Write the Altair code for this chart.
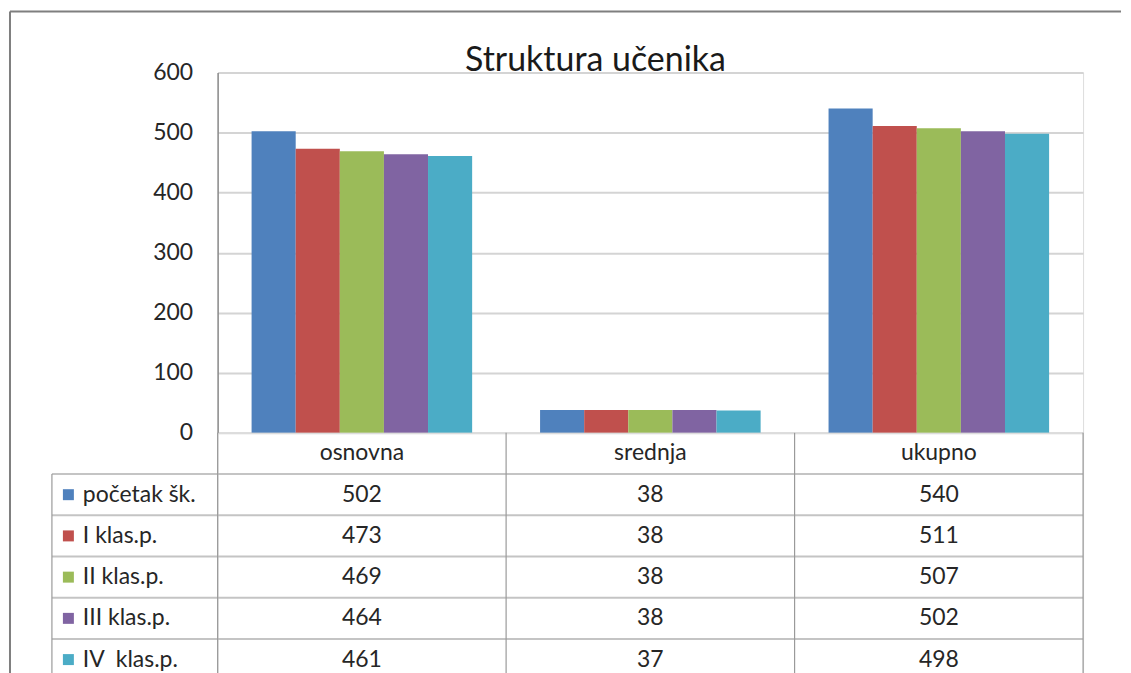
import altair as alt
import pandas as pd

categories = ["osnovna", "srednja", "ukupno"]
series = ["početak šk.", "I klas.p.", "II klas.p.", "III klas.p.", "IV  klas.p."]
v_pocetak = [502, 38, 540]
v_I = [473, 38, 511]
v_II = [469, 38, 507]
v_III = [464, 38, 502]
v_IV = [461, 37, 498]
colors = ["#4F81BD", "#C0504D", "#9BBB59", "#8064A2", "#4BACC6"]
y_ticks = [0, 100, 200, 300, 400, 500, 600]

all_vals = [v_pocetak, v_I, v_II, v_III, v_IV]
rows = []
for s, vals in zip(series, all_vals):
    for c, v in zip(categories, vals):
        rows.append({"cat": c, "series": s, "value": v, "row": s})
df = pd.DataFrame(rows)
hdr = pd.DataFrame({"cat": categories, "row": ["hdr"] * 3})
ser_df = pd.DataFrame({"series": series, "row": series})
row_domain = ["hdr"] + series

FONT = "Lato"
TXT = "#262626"
W, H = 867, 361
ROW_H = 41.3
TH = ROW_H * 6

color_scale = alt.Scale(domain=series, range=colors)

bars = alt.Chart(df).mark_bar().encode(
    x=alt.X("cat:N", sort=categories, scale=alt.Scale(domain=categories, paddingInner=0, paddingOuter=0), axis=None),
    xOffset=alt.XOffset("series:N", sort=series, scale=alt.Scale(domain=series, paddingInner=0, paddingOuter=0.77)),
    y=alt.Y("value:Q", scale=alt.Scale(domain=[0, 600]),
            axis=alt.Axis(values=y_ticks, grid=True, gridColor="#d4d4d4", gridWidth=2,
                          ticks=False, labelPadding=25, labelFontSize=23, labelFont=FONT,
                          labelColor=TXT, domainColor="#8c8c8c", domainWidth=1.5, title=None)),
    color=alt.Color("series:N", scale=color_scale, legend=None),
)

top = bars.properties(
    width=W, height=H,
    title=alt.TitleParams("Struktura učenika", font=FONT, fontSize=34, fontWeight="normal",
                          color="#1a1a1a", anchor="middle", frame="group", dx=-55, offset=-17),
)

xcat = alt.X("cat:N", sort=categories, scale=alt.Scale(domain=categories, paddingInner=0, paddingOuter=0), axis=None)
yrow = alt.Y("row:N", scale=alt.Scale(domain=row_domain, paddingInner=0, paddingOuter=0), axis=None)

header_txt = alt.Chart(hdr).mark_text(font=FONT, fontSize=23, color=TXT).encode(
    x=xcat, y=yrow, text="cat:N")
value_txt = alt.Chart(df).mark_text(font=FONT, fontSize=23, color=TXT).encode(
    x=xcat, y=yrow, text="value:Q")
swatch = alt.Chart(ser_df).mark_square(size=121, opacity=1).encode(
    x=alt.value(-149.5), y=yrow, color=alt.Color("series:N", scale=color_scale, legend=None))
labels = alt.Chart(ser_df).transform_calculate(
    shown="replace(datum.series, '  ', '\u00a0 ')"
).mark_text(font=FONT, fontSize=23, color=TXT, align="left").encode(
    x=alt.value(-135), y=yrow, text="shown:N")
hlines = alt.Chart(ser_df).mark_rule(color="#c4c4c4", strokeWidth=2).encode(
    x=alt.value(-166), x2=alt.value(W),
    y=alt.Y("row:N", scale=alt.Scale(domain=row_domain, paddingInner=0, paddingOuter=0), axis=None, bandPosition=0))
vlines = alt.Chart(hdr).mark_rule(color="#9a9a9a", strokeWidth=1.2).encode(
    x=alt.X("cat:N", sort=categories, scale=alt.Scale(domain=categories, paddingInner=0, paddingOuter=0), axis=None, bandPosition=0),
    y=alt.value(0), y2=alt.value(TH))
right_line = alt.Chart().mark_rule(color="#9a9a9a", strokeWidth=1.2).encode(
    x=alt.value(W), y=alt.value(0), y2=alt.value(TH))
left_line = alt.Chart().mark_rule(color="#9a9a9a", strokeWidth=1.2).encode(
    x=alt.value(-166), y=alt.value(ROW_H), y2=alt.value(TH))
frame_v = alt.Chart().mark_rule(color="#7f7f7f", strokeWidth=2).encode(
    x=alt.value(-208), y=alt.value(-422), y2=alt.value(TH))
frame_h = alt.Chart().mark_rule(color="#7f7f7f", strokeWidth=2).encode(
    x=alt.value(-208), x2=alt.value(905), y=alt.value(-422))

bottom = alt.layer(hlines, vlines, right_line, left_line, frame_v, frame_h,
                   header_txt, value_txt, swatch, labels).properties(width=W, height=TH)

chart = alt.vconcat(top, bottom, spacing=0, bounds="flush").resolve_scale(
    x="independent", y="independent", color="shared"
).properties(
    padding={"left": 0, "top": 1, "right": 0, "bottom": 0}
).configure_view(stroke=None).configure(background="white")

chart.save("out.html", embed_options={"renderer": "svg", "actions": False})
